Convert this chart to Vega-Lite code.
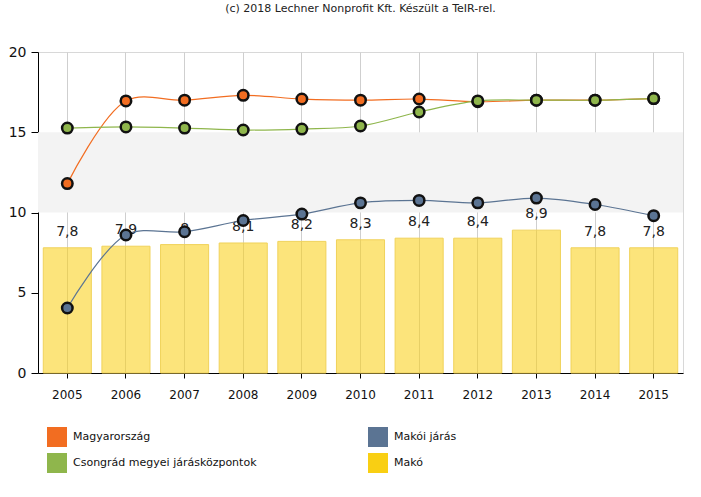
{
  "$schema": "https://vega.github.io/schema/vega-lite/v6.json",
  "width": 645,
  "height": 321,
  "autosize": "none",
  "padding": {"left": 38, "top": 52, "right": 18, "bottom": 124},
  "title": {"text": "(c) 2018 Lechner Nonprofit Kft. Készült a TeIR-rel.", "fontSize": 11, "fontWeight": "normal", "font": "DejaVu Sans", "color": "#222", "offset": 31, "anchor": "middle"},
  "config": {
    "locale": {"number": {"decimal": ",", "thousands": " ", "grouping": [3], "currency": ["", " Ft"]}},
    "font": "DejaVu Sans",
    "view": {"stroke": "#d8d8d8"},
    "axis": {"labelFont": "DejaVu Sans", "labelColor": "#111", "domainColor": "#000", "tickColor": "#000", "title": null}
  },
  "datasets": {
    "bands": [{"lo": 10, "hi": 15}],
    "series": [
      {"year": "2005", "series": "Magyarország", "value": 11.8},
      {"year": "2006", "series": "Magyarország", "value": 16.95},
      {"year": "2007", "series": "Magyarország", "value": 17.0},
      {"year": "2008", "series": "Magyarország", "value": 17.3},
      {"year": "2009", "series": "Magyarország", "value": 17.07},
      {"year": "2010", "series": "Magyarország", "value": 17.0},
      {"year": "2011", "series": "Magyarország", "value": 17.07},
      {"year": "2012", "series": "Magyarország", "value": 16.9},
      {"year": "2013", "series": "Magyarország", "value": 17.0},
      {"year": "2014", "series": "Magyarország", "value": 17.0},
      {"year": "2015", "series": "Magyarország", "value": 17.1},
      {"year": "2005", "series": "Csongrád megyei járásközpontok", "value": 15.26},
      {"year": "2006", "series": "Csongrád megyei járásközpontok", "value": 15.33},
      {"year": "2007", "series": "Csongrád megyei járásközpontok", "value": 15.26},
      {"year": "2008", "series": "Csongrád megyei járásközpontok", "value": 15.14},
      {"year": "2009", "series": "Csongrád megyei járásközpontok", "value": 15.2},
      {"year": "2010", "series": "Csongrád megyei járásközpontok", "value": 15.39},
      {"year": "2011", "series": "Csongrád megyei járásközpontok", "value": 16.26},
      {"year": "2012", "series": "Csongrád megyei járásközpontok", "value": 16.95},
      {"year": "2013", "series": "Csongrád megyei járásközpontok", "value": 17.0},
      {"year": "2014", "series": "Csongrád megyei járásközpontok", "value": 17.0},
      {"year": "2015", "series": "Csongrád megyei járásközpontok", "value": 17.1},
      {"year": "2005", "series": "Makói járás", "value": 4.05},
      {"year": "2006", "series": "Makói járás", "value": 8.6},
      {"year": "2007", "series": "Makói járás", "value": 8.8},
      {"year": "2008", "series": "Makói járás", "value": 9.5},
      {"year": "2009", "series": "Makói járás", "value": 9.9},
      {"year": "2010", "series": "Makói járás", "value": 10.6},
      {"year": "2011", "series": "Makói járás", "value": 10.75},
      {"year": "2012", "series": "Makói járás", "value": 10.6},
      {"year": "2013", "series": "Makói járás", "value": 10.9},
      {"year": "2014", "series": "Makói járás", "value": 10.5},
      {"year": "2015", "series": "Makói járás", "value": 9.8},
      {"year": "2005", "series": "Makó", "value": 7.8},
      {"year": "2006", "series": "Makó", "value": 7.9},
      {"year": "2007", "series": "Makó", "value": 8.0},
      {"year": "2008", "series": "Makó", "value": 8.1},
      {"year": "2009", "series": "Makó", "value": 8.2},
      {"year": "2010", "series": "Makó", "value": 8.3},
      {"year": "2011", "series": "Makó", "value": 8.4},
      {"year": "2012", "series": "Makó", "value": 8.4},
      {"year": "2013", "series": "Makó", "value": 8.9},
      {"year": "2014", "series": "Makó", "value": 7.8},
      {"year": "2015", "series": "Makó", "value": 7.8}
    ]
  },
  "layer": [
    {
      "data": {"name": "bands"},
      "mark": {"type": "rect", "color": "#f3f3f3"},
      "encoding": {
        "y": {"field": "lo", "type": "quantitative", "scale": {"domain": [0, 20]}},
        "y2": {"field": "hi"}
      }
    },
    {
      "data": {"name": "series"},
      "transform": [{"filter": "datum.series === 'Makó'"}],
      "mark": {"type": "bar", "fillOpacity": 0.56, "stroke": "#f0d25a", "strokeWidth": 1},
      "encoding": {
        "x": {"field": "year", "type": "ordinal", "scale": {"paddingInner": 0.18, "paddingOuter": 0.09},
          "axis": {"labelAngle": 0, "labelFontSize": 12, "tickSize": 5, "labelPadding": 11, "grid": true, "gridColor": "#cfcfcf", "domainColor": "#000"}},
        "y": {"field": "value", "type": "quantitative", "scale": {"domain": [0, 20]},
          "axis": {"values": [0, 5, 10, 15, 20], "labelFontSize": 14, "tickSize": 7, "labelPadding": 5, "grid": false, "format": "d"}},
        "color": {"field": "series", "type": "nominal",
          "scale": {"domain": ["Magyarország", "Makói járás", "Csongrád megyei járásközpontok", "Makó"], "range": ["#f26d21", "#5b7493", "#8fb64c", "#f9cf13"]},
          "legend": {"orient": "none", "legendX": 9, "legendY": 375, "columns": 2, "direction": "horizontal", "title": null,
            "symbolType": "square", "symbolSize": 400, "symbolStrokeWidth": 0, "symbolOpacity": 1, "labelFontSize": 11, "labelFont": "DejaVu Sans", "labelColor": "#111",
            "labelOffset": 6, "rowPadding": 6, "columnPadding": 111, "padding": 0, "labelLimit": 300}}
      }
    },
    {
      "data": {"name": "series"},
      "transform": [{"filter": "datum.series === 'Makó'"}],
      "mark": {"type": "text", "dy": -9, "fontSize": 14, "color": "#222", "baseline": "bottom"},
      "encoding": {
        "x": {"field": "year", "type": "ordinal"},
        "y": {"field": "value", "type": "quantitative"},
        "text": {"field": "value", "type": "quantitative", "format": ".2~r"}
      }
    },
    {
      "data": {"name": "series"},
      "transform": [{"filter": "datum.series !== 'Makó'"}],
      "mark": {"type": "line", "interpolate": "catmull-rom", "strokeWidth": 1.2},
      "encoding": {
        "x": {"field": "year", "type": "ordinal"},
        "y": {"field": "value", "type": "quantitative"},
        "color": {"field": "series", "type": "nominal"}
      }
    },
    {
      "data": {"name": "series"},
      "transform": [{"filter": "datum.series !== 'Makó'"}],
      "mark": {"type": "point", "filled": true, "opacity": 1, "size": 110, "stroke": "#111", "strokeWidth": 2.5},
      "encoding": {
        "x": {"field": "year", "type": "ordinal"},
        "y": {"field": "value", "type": "quantitative"},
        "color": {"field": "series", "type": "nominal"}
      }
    }
  ]
}
